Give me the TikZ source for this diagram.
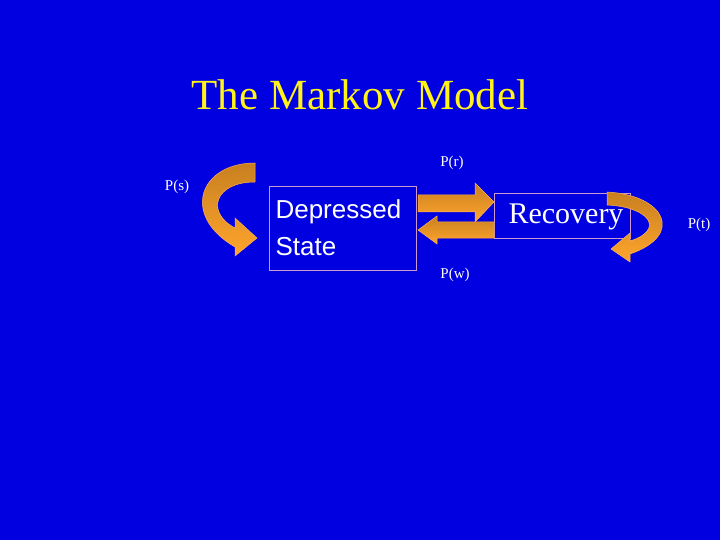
\documentclass[tikz,border=0pt]{standalone}
\usepackage{fontspec}
\setmainfont{Liberation Serif}
\setsansfont{Liberation Sans}
\definecolor{bg}{RGB}{0,0,225}
\definecolor{ordark}{RGB}{200,128,32}
\definecolor{orlight}{RGB}{255,165,45}
\begin{document}
\begin{tikzpicture}[x=1pt,y=-1pt,
  box/.style={draw=violet!40!white,line width=0.8pt,inner sep=3pt,text=white},
  lbl/.style={text=white,font=\fontsize{15}{17}\selectfont},
  band/.style={top color=ordark,bottom color=orlight,draw=orange!60!white,line width=0.5pt}]
\fill[bg] (0,0) rectangle (720,540);
\useasboundingbox (0,0) rectangle (720,540);
\node[text=yellow!90!white,font=\fontsize{43}{45}\selectfont] (title) at (360,95) {The Markov Model};
\draw[box] (269,186) rectangle (416,270);
\node[text=white,font=\sffamily\fontsize{26}{37}\selectfont,align=left,anchor=north west] (dep) at (272,196) {Depressed\\State};
\draw[box] (494,193) rectangle (630,238);
\node[text=white,font=\fontsize{30}{32}\selectfont] (rec) at (566,217) {Recovery};
% straight arrows
\fill[band] (418,195) -- (475,195) -- (475,183) -- (494,202) -- (475,222) -- (475,212) -- (418,212) -- cycle;
\fill[band] (494,222) -- (437,222) -- (437,216) -- (418,230) -- (437,244) -- (437,238) -- (494,238) -- cycle;
% curved arrows
\fill[band] (255,163) .. controls (200,163) and (180,215) .. (235,247) -- (235,256) -- (257,238) -- (235,218) -- (235,228) .. controls (205,212) and (215,182) .. (255,182) -- cycle;
\fill[band] (607,192) .. controls (665,195) and (685,235) .. (630,254) -- (630,262) -- (611,249) -- (630,233) -- (630,241) .. controls (665,230) and (650,207) .. (607,205) -- cycle;
\node[lbl] (ps) at (177,187) {P(s)};
\node[lbl] (pr) at (452,163) {P(r)};
\node[lbl] (pw) at (455,275) {P(w)};
\node[lbl] (pt) at (699,225) {P(t)};
\end{tikzpicture}
\end{document}
